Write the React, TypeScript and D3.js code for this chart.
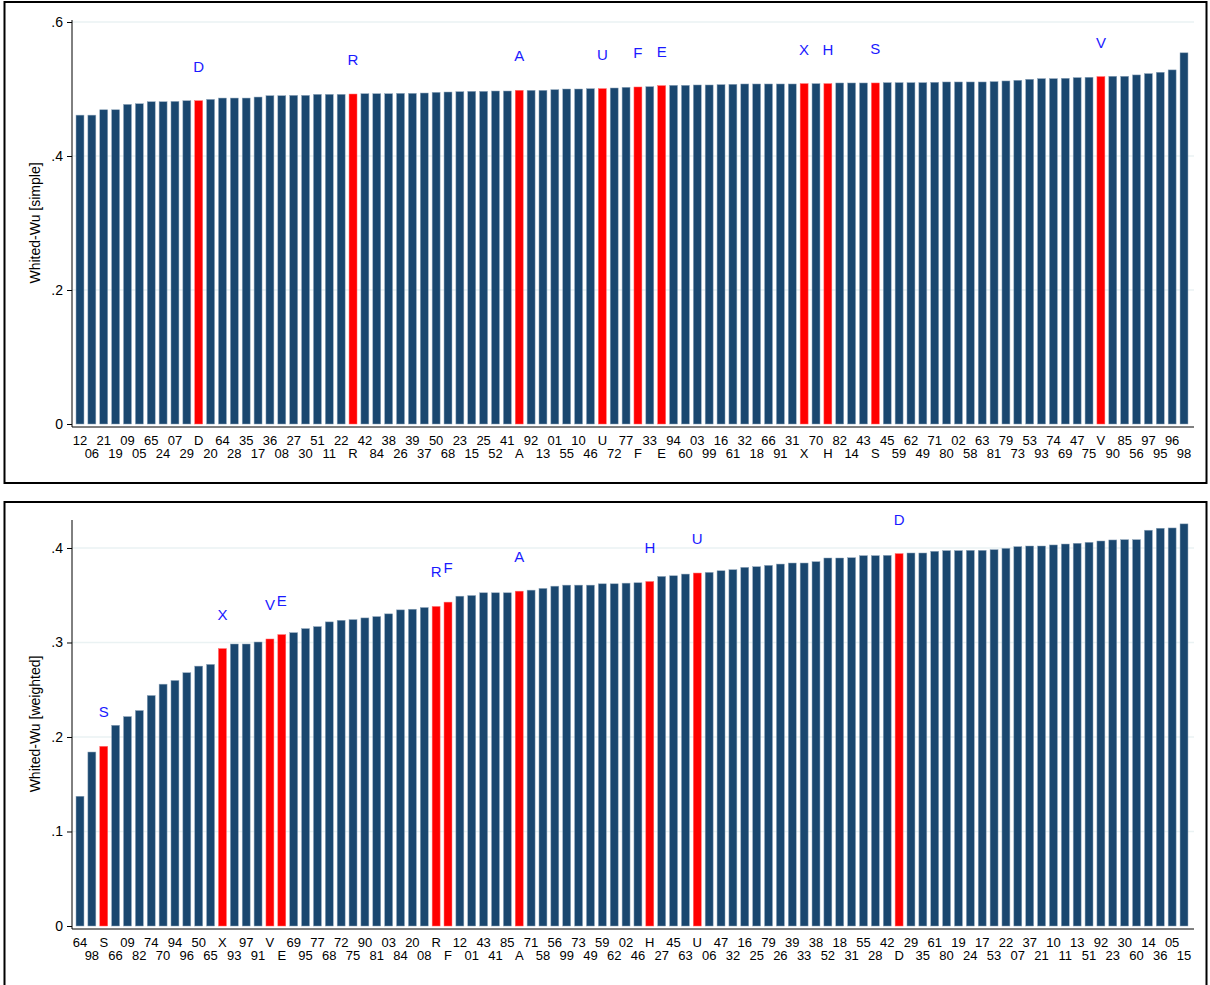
import React, { useRef, useEffect } from 'react';
import * as d3 from 'd3';

// top panel: Whited-Wu [simple], sorted ascending
const simpleLabels = [
  '12', '06', '21', '19', '09', '05', '65', '24', '07', '29', 'D', '20', '64', '28', '35', '17', '36', '08', '27', '30',
  '51', '11', '22', 'R', '42', '84', '38', '26', '39', '37', '50', '68', '23', '15', '25', '52', '41', 'A', '92', '13',
  '01', '55', '10', '46', 'U', '72', '77', 'F', '33', 'E', '94', '60', '03', '99', '16', '61', '32', '18', '66', '91',
  '31', 'X', '70', 'H', '82', '14', '43', 'S', '45', '59', '62', '49', '71', '80', '02', '58', '63', '81', '79', '73',
  '53', '93', '74', '69', '47', '75', 'V', '90', '85', '56', '97', '95', '96', '98',
];
const simpleValues = [
  0.461, 0.461, 0.469, 0.469, 0.477, 0.478, 0.481, 0.481, 0.4815, 0.4825, 0.4825, 0.4845, 0.4865, 0.4865, 0.4865, 0.488, 0.49, 0.49, 0.4905, 0.4905,
  0.492, 0.492, 0.492, 0.4925, 0.493, 0.493, 0.493, 0.4935, 0.4935, 0.494, 0.495, 0.4955, 0.496, 0.4965, 0.4965, 0.497, 0.497, 0.498, 0.498, 0.498,
  0.499, 0.5, 0.5, 0.5005, 0.5005, 0.5015, 0.5025, 0.503, 0.5035, 0.505, 0.5055, 0.5055, 0.506, 0.506, 0.5065, 0.507, 0.5075, 0.5075, 0.5075, 0.5075,
  0.5075, 0.508, 0.508, 0.508, 0.509, 0.509, 0.509, 0.509, 0.5095, 0.5095, 0.5095, 0.5095, 0.51, 0.5105, 0.5105, 0.5105, 0.5105, 0.511, 0.512, 0.513,
  0.5145, 0.5155, 0.5155, 0.516, 0.517, 0.5175, 0.5185, 0.519, 0.519, 0.521, 0.523, 0.525, 0.5285, 0.554,
];
const simpleTicks = [0, 0.2, 0.4, 0.6];

// bottom panel: Whited-Wu [weighted], sorted ascending
const weightedLabels = [
  '64', '98', 'S', '66', '09', '82', '74', '70', '94', '96', '50', '65', 'X', '93', '97', '91', 'V', 'E', '69', '95',
  '77', '68', '72', '75', '90', '81', '03', '84', '20', '08', 'R', 'F', '12', '01', '43', '41', '85', 'A', '71', '58',
  '56', '99', '73', '49', '59', '62', '02', '46', 'H', '27', '45', '63', 'U', '06', '47', '32', '16', '25', '79', '26',
  '39', '33', '38', '52', '18', '31', '55', '28', '42', 'D', '29', '35', '61', '80', '19', '24', '17', '53', '22', '07',
  '37', '21', '10', '11', '13', '51', '92', '23', '30', '60', '14', '36', '05', '15',
];
const weightedValues = [
  0.1373, 0.1841, 0.1901, 0.2124, 0.2216, 0.228, 0.2439, 0.2559, 0.2598, 0.268, 0.275, 0.2768, 0.2935, 0.2984, 0.2984, 0.3005, 0.3037, 0.3083, 0.3104, 0.3147,
  0.3168, 0.3218, 0.3235, 0.3242, 0.326, 0.3274, 0.3303, 0.3345, 0.3352, 0.337, 0.3381, 0.3427, 0.349, 0.3497, 0.3526, 0.3526, 0.3526, 0.3543, 0.3554, 0.3572,
  0.3596, 0.3607, 0.3607, 0.3607, 0.3621, 0.3621, 0.3628, 0.3632, 0.3645, 0.3699, 0.3706, 0.3724, 0.3735, 0.3742, 0.3759, 0.377, 0.3795, 0.3802, 0.3816, 0.383,
  0.3841, 0.3841, 0.3855, 0.3894, 0.3894, 0.3897, 0.3919, 0.3919, 0.3922, 0.394, 0.3947, 0.3947, 0.3965, 0.3972, 0.3972, 0.3975, 0.3975, 0.3982, 0.3996, 0.4014,
  0.4021, 0.4021, 0.4032, 0.4042, 0.405, 0.406, 0.4074, 0.4085, 0.4088, 0.4088, 0.4188, 0.4209, 0.4212, 0.4255,
];
const weightedTicks = [0, 0.1, 0.2, 0.3, 0.4];

const NAVY = '#1a476f';
const RED = '#ff0000';
const GRID = '#eaf2f3';
const FONT = 'Liberation Sans, Arial, Helvetica, sans-serif';

const isCountry = (s: string) => /^[A-Z]$/.test(s);
const fmt = (v: number) => (v === 0 ? '0' : d3.format('.1f')(v).replace(/^0/, ''));

function drawPanel(svg: any, p: any) {
  const { labels, values, ticks, title, yMax, y0, yTop, boxTop, boxBottom } = p;
  const x = d3.scaleBand<string>()
    .domain(labels)
    .range([74, 1190])
    .paddingInner(0.33)
    .paddingOuter(0.17);
  const y = d3.scaleLinear().domain([0, yMax]).range([y0, yTop]);

  const g = svg.append('g');

  // frame
  g.append('rect')
    .attr('x', 4.5).attr('y', boxTop)
    .attr('width', 1202).attr('height', boxBottom - boxTop)
    .attr('fill', 'white').attr('stroke', 'black').attr('stroke-width', 2);

  // grid
  g.selectAll('.grid').data(ticks.filter((t: number) => t > 0)).enter()
    .append('line')
    .attr('x1', 72).attr('x2', 1194)
    .attr('y1', (d: number) => y(d)).attr('y2', (d: number) => y(d))
    .attr('stroke', GRID).attr('stroke-width', 1.5);

  // bars
  g.selectAll('.bar').data(labels).enter()
    .append('rect')
    .attr('x', (d: string) => x(d))
    .attr('width', x.bandwidth())
    .attr('y', (d: string, i: number) => y(values[i]))
    .attr('height', (d: string, i: number) => y0 - y(values[i]))
    .attr('fill', (d: string) => (isCountry(d) ? RED : NAVY))
    .attr('stroke', (d: string) => (isCountry(d) ? '#ff6b6b' : '#8fa6bb'))
    .attr('stroke-width', 0.5);

  // letters above highlighted bars
  g.selectAll('.mark').data(labels.filter(isCountry)).enter()
    .append('text')
    .attr('x', (d: string) => x(d)! + x.bandwidth() / 2)
    .attr('y', (d: string) => y(values[labels.indexOf(d)]) - 29)
    .attr('text-anchor', 'middle')
    .attr('font-family', FONT).attr('font-size', 15)
    .attr('fill', '#1a1aff')
    .text((d: string) => d);

  // y axis
  const yAxis = d3.axisLeft(y).tickValues(ticks).tickSize(5).tickPadding(4).tickFormat((d: any) => fmt(d));
  const ya = g.append('g').attr('transform', 'translate(72,0)').call(yAxis);
  ya.select('.domain').remove();
  ya.selectAll('text').attr('font-family', FONT).attr('font-size', 14).attr('fill', 'black');
  ya.selectAll('line').attr('stroke', 'black');
  g.append('line')
    .attr('x1', 72).attr('x2', 72).attr('y1', yTop - 2).attr('y2', y0 + 3)
    .attr('stroke', 'black').attr('stroke-width', 1);

  // x axis line
  g.append('line')
    .attr('x1', 72).attr('x2', 1194).attr('y1', y0 + 3).attr('y2', y0 + 3)
    .attr('stroke', 'black').attr('stroke-width', 1);

  // staggered category labels
  g.selectAll('.xl').data(labels).enter()
    .append('text')
    .attr('x', (d: string) => x(d)! + x.bandwidth() / 2)
    .attr('y', (d: string, i: number) => y0 + (i % 2 === 0 ? 21 : 34))
    .attr('text-anchor', 'middle')
    .attr('font-family', FONT).attr('font-size', 13)
    .attr('fill', 'black')
    .text((d: string) => d);

  // y title
  g.append('text')
    .attr('transform', `translate(40,${(y0 + yTop) / 2}) rotate(-90)`)
    .attr('text-anchor', 'middle')
    .attr('font-family', FONT).attr('font-size', 14)
    .attr('fill', 'black')
    .text(title);
}

function App() {
  const svgRef = useRef<SVGSVGElement>(null);

  useEffect(() => {
    const svg = d3.select(svgRef.current);
    svg.selectAll('*').remove();
    svg.append('rect').attr('width', 1210).attr('height', 985).attr('fill', 'white');

    drawPanel(svg, {
      labels: simpleLabels, values: simpleValues, ticks: simpleTicks,
      title: 'Whited-Wu [simple]', yMax: 0.6, y0: 424, yTop: 22, boxTop: 2, boxBottom: 483,
    });
    drawPanel(svg, {
      labels: weightedLabels, values: weightedValues, ticks: weightedTicks,
      title: 'Whited-Wu [weighted]', yMax: 0.4275, y0: 926, yTop: 522, boxTop: 502, boxBottom: 990,
    });
  }, []);

  return (
    <svg
      ref={svgRef}
      width={1210}
      height={985}
      style={{ position: 'absolute', left: 0, top: 0 }}
    />
  );
}

export default App;
